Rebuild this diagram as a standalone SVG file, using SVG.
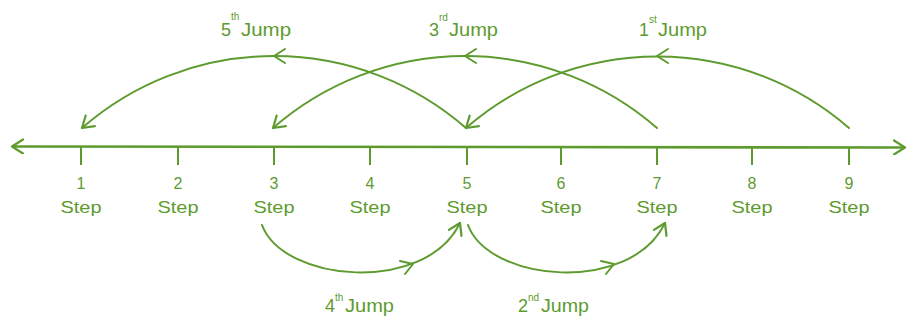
<svg xmlns="http://www.w3.org/2000/svg" width="908" height="320" viewBox="0 0 908 320">
<defs>
<style>
.ln{fill:none;stroke:#5e9b2f;stroke-width:2;stroke-linecap:round;stroke-linejoin:round}
.ax{fill:none;stroke:#5e9b2f;stroke-width:2.6}
.tk{stroke:#5e9b2f;stroke-width:2}
.t{font-family:"Liberation Sans",Arial,sans-serif;fill:#5e9b2f;text-anchor:middle}
.num{font-size:16px}
.st{font-size:17px}
.jp{font-family:"Liberation Sans",Arial,sans-serif;fill:#5e9b2f;font-size:18px}
.sup{font-family:"Liberation Sans",Arial,sans-serif;fill:#5e9b2f;font-size:10px}
</style>
<marker id="ah" viewBox="0 0 14 16" refX="12" refY="8" markerWidth="14" markerHeight="16" markerUnits="userSpaceOnUse" orient="auto-start-reverse">
<path d="M1,1 L12,8 L1,15" fill="none" stroke="#5e9b2f" stroke-width="2.2" stroke-linecap="round" stroke-linejoin="round"/>
</marker>
</defs>
<rect width="908" height="320" fill="#ffffff"/>
<g id="axis">
<line class="ax" x1="12" y1="146.5" x2="905" y2="147.5" marker-start="url(#ah)" marker-end="url(#ah)"/>
</g>
<g id="step1"><line class="tk" x1="81" y1="147" x2="81" y2="165"/><text class="t num" x="81" y="189">1</text><text class="t st" x="81" y="213" textLength="41" lengthAdjust="spacingAndGlyphs">Step</text></g>
<g id="step2"><line class="tk" x1="178" y1="147" x2="178" y2="165"/><text class="t num" x="178" y="189">2</text><text class="t st" x="178" y="213" textLength="41" lengthAdjust="spacingAndGlyphs">Step</text></g>
<g id="step3"><line class="tk" x1="274" y1="147" x2="274" y2="165"/><text class="t num" x="274" y="189">3</text><text class="t st" x="274" y="213" textLength="41" lengthAdjust="spacingAndGlyphs">Step</text></g>
<g id="step4"><line class="tk" x1="370" y1="147" x2="370" y2="165"/><text class="t num" x="370" y="189">4</text><text class="t st" x="370" y="213" textLength="41" lengthAdjust="spacingAndGlyphs">Step</text></g>
<g id="step5"><line class="tk" x1="467" y1="147" x2="467" y2="165"/><text class="t num" x="467" y="189">5</text><text class="t st" x="467" y="213" textLength="41" lengthAdjust="spacingAndGlyphs">Step</text></g>
<g id="step6"><line class="tk" x1="561" y1="147" x2="561" y2="165"/><text class="t num" x="561" y="189">6</text><text class="t st" x="561" y="213" textLength="41" lengthAdjust="spacingAndGlyphs">Step</text></g>
<g id="step7"><line class="tk" x1="657" y1="147" x2="657" y2="165"/><text class="t num" x="657" y="189">7</text><text class="t st" x="657" y="213" textLength="41" lengthAdjust="spacingAndGlyphs">Step</text></g>
<g id="step8"><line class="tk" x1="752" y1="147" x2="752" y2="165"/><text class="t num" x="752" y="189">8</text><text class="t st" x="752" y="213" textLength="41" lengthAdjust="spacingAndGlyphs">Step</text></g>
<g id="step9"><line class="tk" x1="849" y1="147" x2="849" y2="165"/><text class="t num" x="849" y="189">9</text><text class="t st" x="849" y="213" textLength="41" lengthAdjust="spacingAndGlyphs">Step</text></g>
<g id="connectors">
<path class="ln" d="M849,128 A292,292 0 0 0 466,128" marker-end="url(#ah)"/>
<path class="ln" d="M657,128 A292,292 0 0 0 273,128" marker-end="url(#ah)"/>
<path class="ln" d="M466,128 A292,292 0 0 0 82,128" marker-end="url(#ah)"/>
<path class="ln" d="M668,49 L657,56 L668,63"/>
<path class="ln" d="M476,49 L465,56 L476,63"/>
<path class="ln" d="M285,49 L274,56 L285,63"/>
<path class="ln" d="M262,225 C283,282 425,295 460,223" marker-end="url(#ah)"/>
<path class="ln" d="M468,225 C489,282 630,295 665,223" marker-end="url(#ah)"/>
<path class="ln" d="M400,261 L413,264 L405,274"/>
<path class="ln" d="M601,261 L614,264 L606,274"/>
</g>
<g id="label-jump5"><text class="jp" x="221" y="36">5</text><text class="sup" x="231" y="20">th</text><text class="jp" x="241" y="36" textLength="50" lengthAdjust="spacingAndGlyphs">Jump</text></g>
<g id="label-jump3"><text class="jp" x="429" y="36">3</text><text class="sup" x="439" y="21">rd</text><text class="jp" x="449" y="36" textLength="49" lengthAdjust="spacingAndGlyphs">Jump</text></g>
<g id="label-jump1"><text class="jp" x="639" y="36">1</text><text class="sup" x="649" y="23">st</text><text class="jp" x="658" y="36" textLength="49" lengthAdjust="spacingAndGlyphs">Jump</text></g>
<g id="label-jump4"><text class="jp" x="325" y="312">4</text><text class="sup" x="335" y="301">th</text><text class="jp" x="345" y="312" textLength="49" lengthAdjust="spacingAndGlyphs">Jump</text></g>
<g id="label-jump2"><text class="jp" x="518" y="312">2</text><text class="sup" x="528" y="301">nd</text><text class="jp" x="541" y="312" textLength="48" lengthAdjust="spacingAndGlyphs">Jump</text></g>
</svg>
